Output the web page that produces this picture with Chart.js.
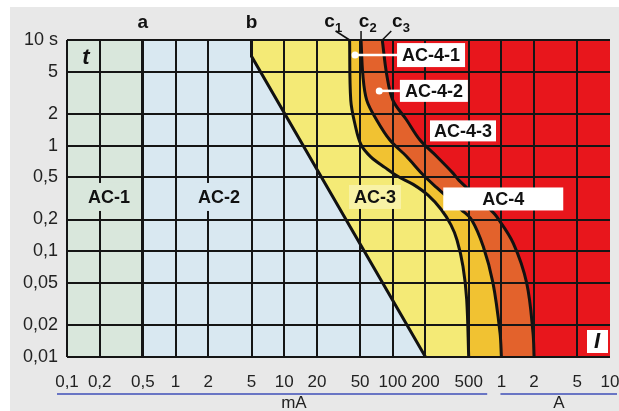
<!DOCTYPE html>
<html>
<head>
<meta charset="utf-8">
<script src="https://cdn.jsdelivr.net/npm/chart.js@4.4.1/dist/chart.umd.min.js"></script>
<style>
  html, body { margin: 0; padding: 0; background: #fff; }
  canvas { display: block; }
</style>
</head>
<body>
<canvas id="chart" width="619" height="411"></canvas>
<script>
// axis ticks: current in mA, time in s
const currentTicks = [0.1, 0.2, 0.5, 1, 2, 5, 10, 20, 50, 100, 200, 500, 1000, 2000, 5000, 10000];
const currentLabels = ['0,1', '0,2', '0,5', '1', '2', '5', '10', '20', '50', '100', '200', '500', '1', '2', '5', '10'];
const timeTicks = [10, 5, 2, 1, 0.5, 0.2, 0.1, 0.05, 0.02, 0.01];
const timeLabels = ['10 s', '5', '2', '1', '0,5', '0,2', '0,1', '0,05', '0,02', '0,01'];

// zone boundaries (mA, s)
const lineA = 0.5;
const lineBCurrent = [5, 5, 200];
const lineBTime = [10, 7, 0.01];
const c1Current = [40, 41, 45, 51, 63, 85, 112, 154, 211, 278, 343, 390, 443, 479, 500];
const c1Time = [10, 2.7, 1.57, 1.02, 0.78, 0.62, 0.51, 0.43, 0.34, 0.25, 0.178, 0.128, 0.072, 0.035, 0.01];
const c2Current = [51, 53, 57.5, 71, 94, 134, 190, 254, 431, 533, 681, 837, 971, 1000];
const c2Time = [10, 4.67, 2.7, 1.75, 1.13, 0.79, 0.53, 0.4, 0.246, 0.198, 0.111, 0.05, 0.017, 0.01];
const c3Current = [80, 88, 100, 134, 178, 254, 358, 407, 797, 905, 1288, 1710, 1954, 2000];
const c3Time = [10, 4.67, 2.7, 1.75, 1.13, 0.79, 0.55, 0.47, 0.246, 0.213, 0.119, 0.05, 0.017, 0.01];

const colors = {
  ac1: '#d9e7dc',
  ac2: '#d9e8f1',
  ac3: '#f4ea76',
  ac41: '#f1c232',
  ac42: '#e3622c',
  ac43: '#e8161c'
};
const FONT = "'Liberation Sans', Arial, sans-serif";

// zone labels (position in mA / s)
const zoneLabels = [
  {text: 'AC-1', x: 0.244, t: 0.327, w: 50, h: 28, bg: colors.ac1},
  {text: 'AC-2', x: 2.51, t: 0.327, w: 50, h: 28, bg: colors.ac2},
  {text: 'AC-3', x: 68.6, t: 0.327, w: 52, h: 24, bg: '#f8f2a6'},
  {text: 'AC-4', x: 1040, t: 0.313, w: 120, h: 23, bg: '#ffffff'},
  {text: 'AC-4-1', x: 225, t: 7.2, w: 68, h: 24, bg: '#ffffff', dot: 44.9},
  {text: 'AC-4-2', x: 239, t: 3.3, w: 68, h: 22, bg: '#ffffff', dot: 75},
  {text: 'AC-4-3', x: 443, t: 1.38, w: 66, h: 21, bg: '#ffffff'}
];

function pts(xs, ys) {
  return xs.map((x, i) => ({x: x, y: ys[i]}));
}
function band(from) {
  return [{x: from, y: 10}, {x: 10000, y: 10}];
}
function fillSet(data, color, order) {
  return {data: data, backgroundColor: color, borderColor: 'rgba(0,0,0,0)', borderWidth: 0,
    pointRadius: 0, fill: 'start', tension: 0, order: order};
}
function curveSet(data, color, order, tension) {
  return {data: data, backgroundColor: color, borderColor: '#111', borderWidth: 3,
    pointRadius: 0, fill: 'end', tension: tension, order: order};
}

const decorations = {
  id: 'decorations',
  beforeDraw(chart) {
    const ctx = chart.ctx;
    ctx.save();
    ctx.fillStyle = '#ffffff';
    ctx.fillRect(0, 0, chart.width, chart.height);
    ctx.fillStyle = '#e8e8e8';
    ctx.fillRect(10, 7, chart.width - 10, chart.height - 7);
    ctx.restore();
  },
  afterDraw(chart) {
    const ctx = chart.ctx;
    const xs = chart.scales.x, ys = chart.scales.y;
    const area = chart.chartArea;
    const px = v => xs.getPixelForValue(v);
    const py = v => ys.getPixelForValue(v);
    ctx.save();
    ctx.textAlign = 'center';
    ctx.textBaseline = 'middle';

    // zone labels
    zoneLabels.forEach(l => {
      const cx = px(l.x), cy = py(l.t);
      if (l.dot) {
        const dx = px(l.dot);
        ctx.strokeStyle = '#fff';
        ctx.lineWidth = 2.5;
        ctx.beginPath();
        ctx.moveTo(dx, cy);
        ctx.lineTo(cx - l.w / 2, cy);
        ctx.stroke();
        ctx.fillStyle = '#fff';
        ctx.beginPath();
        ctx.arc(dx, cy, 3.5, 0, Math.PI * 2);
        ctx.fill();
      }
      ctx.fillStyle = l.bg;
      ctx.fillRect(cx - l.w / 2, cy - l.h / 2, l.w, l.h);
      ctx.fillStyle = '#111';
      ctx.font = 'bold 18px ' + FONT;
      ctx.fillText(l.text, cx, cy + 1);
    });

    // t and I axis symbols
    ctx.font = 'italic bold 22px ' + FONT;
    ctx.fillStyle = '#111';
    ctx.fillText('t', area.left + 19, area.top + 18);
    ctx.fillStyle = '#fff';
    ctx.fillRect(area.right - 23, area.bottom - 27, 21, 23);
    ctx.fillStyle = '#111';
    ctx.fillText('I', area.right - 13, area.bottom - 15);

    // a, b, c1..c3 above the plot
    const topY = area.top - 17;
    ctx.font = 'bold 19px ' + FONT;
    ctx.fillText('a', px(lineA), topY);
    ctx.fillText('b', px(lineBCurrent[0]), topY);
    const cTops = [
      {x: px(c1Current[0]), off: -20, sub: '1', lead: [-14, 0]},
      {x: px(c2Current[0]), off: 3, sub: '2', lead: [0, 0]},
      {x: px(c3Current[0]), off: 15, sub: '3', lead: [9, 0]}
    ];
    cTops.forEach(c => {
      ctx.font = 'bold 19px ' + FONT;
      ctx.fillText('c', c.x + c.off, topY - 1);
      ctx.font = 'bold 13px ' + FONT;
      ctx.fillText(c.sub, c.x + c.off + 9, topY + 5);
      ctx.strokeStyle = '#111';
      ctx.lineWidth = 1.5;
      ctx.beginPath();
      ctx.moveTo(c.x + c.lead[0], area.top - 9);
      ctx.lineTo(c.x, area.top);
      ctx.stroke();
    });

    // unit lines under the current axis
    const lineY = area.bottom + 37;
    ctx.strokeStyle = '#3f4fb8';
    ctx.lineWidth = 1.5;
    ctx.beginPath();
    ctx.moveTo(area.left - 10, lineY);
    ctx.lineTo(px(740), lineY);
    ctx.moveTo(px(980), lineY);
    ctx.lineTo(chart.width - 2, lineY);
    ctx.stroke();
    ctx.fillStyle = '#222';
    ctx.font = '17px ' + FONT;
    ctx.fillText('mA', px(12.3), lineY + 9);
    ctx.fillText('A', px(3390), lineY + 9);
    ctx.restore();
  }
};

const datasets = [
  curveSet(pts(c3Current, c3Time), colors.ac43, 1, 0.35),
  fillSet(band(c3Current[c3Current.length - 1]), colors.ac43, 2),
  curveSet(pts(c2Current, c2Time), colors.ac42, 3, 0.35),
  fillSet(band(c2Current[c2Current.length - 1]), colors.ac42, 4),
  curveSet(pts(c1Current, c1Time), colors.ac41, 5, 0.35),
  fillSet(band(c1Current[c1Current.length - 1]), colors.ac41, 6),
  curveSet(pts(lineBCurrent, lineBTime), colors.ac3, 7, 0),
  fillSet(band(lineBCurrent[lineBCurrent.length - 1]), colors.ac3, 8),
  fillSet([{x: currentTicks[0], y: 10}, {x: lineA, y: 10}], colors.ac1, 9),
  fillSet(band(currentTicks[0]), colors.ac2, 10)
];

new Chart(document.getElementById('chart'), {
  type: 'line',
  data: {datasets: datasets},
  options: {
    responsive: false,
    animation: false,
    events: [],
    layout: {padding: {top: 40, right: 9, left: 0, bottom: 0}},
    plugins: {legend: {display: false}, tooltip: {enabled: false}},
    scales: {
      x: {
        type: 'logarithmic',
        min: 0.1,
        max: 10000,
        afterBuildTicks: s => { s.ticks = currentTicks.map(v => ({value: v})); },
        afterFit: s => { s.height = 54; s.paddingLeft = 0; s.paddingRight = 0; },
        border: {display: false},
        grid: {
          z: 1,
          drawTicks: false,
          color: c => (c.tick && c.tick.value === 10000) ? 'rgba(0,0,0,0)' : '#151515',
          lineWidth: c => (c.tick && c.tick.value === lineA) ? 3 : 2
        },
        ticks: {
          autoSkip: false,
          maxRotation: 0,
          padding: 15,
          color: '#222',
          font: {family: FONT, size: 17},
          callback: (v, i) => currentLabels[i]
        }
      },
      y: {
        type: 'logarithmic',
        min: 0.01,
        max: 10,
        afterBuildTicks: s => { s.ticks = timeTicks.map(v => ({value: v})); },
        afterFit: s => { s.width = 67; s.paddingTop = 0; s.paddingBottom = 0; },
        border: {display: false},
        grid: {z: 1, drawTicks: false, color: '#151515', lineWidth: 2},
        ticks: {
          autoSkip: false,
          padding: 9,
          color: '#222',
          font: {family: FONT, size: 18},
          callback: (v, i) => timeLabels[i]
        }
      }
    }
  },
  plugins: [decorations]
});
</script>
</body>
</html>
